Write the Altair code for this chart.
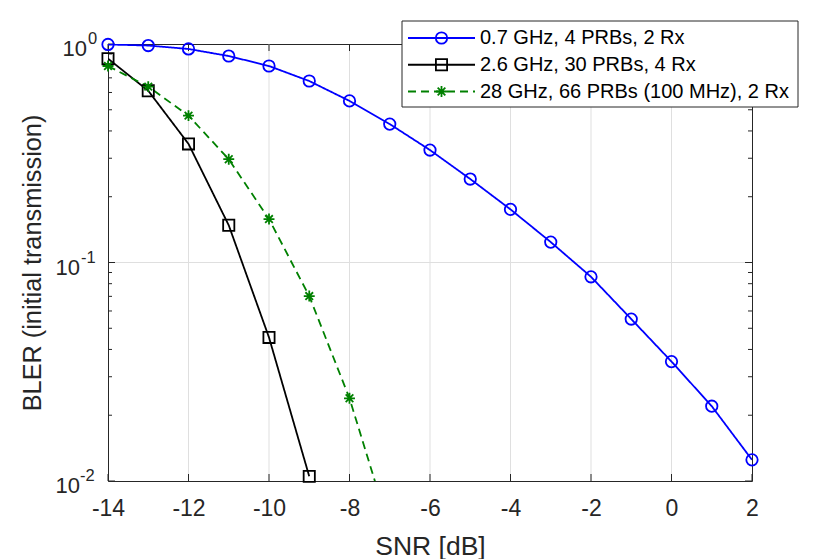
import altair as alt
import pandas as pd

# ---------------- data ----------------
series_names = [
    "0.7 GHz, 4 PRBs, 2 Rx",
    "2.6 GHz, 30 PRBs, 4 Rx",
    "28 GHz, 66 PRBs (100 MHz), 2 Rx",
]
series_colors = ["#0000ff", "#000000", "#008000"]

snr_07 = [-14, -13, -12, -11, -10, -9, -8, -7, -6, -5, -4, -3, -2, -1, 0, 1, 2]
bler_07 = [0.995, 0.984, 0.949, 0.881, 0.793, 0.677, 0.549, 0.430, 0.327,
           0.241, 0.175, 0.124, 0.086, 0.0551, 0.0352, 0.0220, 0.0125]

snr_26 = [-14, -13, -12, -11, -10, -9]
bler_26 = [0.857, 0.611, 0.349, 0.148, 0.0454, 0.0105]

snr_28 = [-14, -13, -12, -11, -10, -9, -8, -7]
bler_28 = [0.793, 0.638, 0.470, 0.297, 0.158, 0.0702, 0.0239, 0.006]

x_ticks = [-14, -12, -10, -8, -6, -4, -2, 0, 2]
y_major_ticks = [1, 0.1, 0.01]
y_tick_base = ["10", "10", "10"]
y_tick_exp = ["0", "-1", "-2"]
y_minor_ticks = [0.02, 0.03, 0.04, 0.05, 0.06, 0.07, 0.08, 0.09,
                 0.2, 0.3, 0.4, 0.5, 0.6, 0.7, 0.8, 0.9]
y_grid = [0.1]

# ---------------- styling ----------------
W, H = 644, 437
FONT = "Liberation Sans"
AX = "#262626"
GRID = "#dfdfdf"
STAR = "M-1,0L1,0M0,-1L0,1M-0.7,-0.7L0.7,0.7M-0.7,0.7L0.7,-0.7"
shapes = ["circle", "square", STAR]
dashes = [[1, 0], [1, 0], [8, 5]]
base_right = [-21, -28, -28]   # pixel anchor of the "10" part of each label
exp_left = [-20, -27, -28]     # pixel anchor of the exponent part

rows = []
for name, xs, ys in [(series_names[0], snr_07, bler_07),
                     (series_names[1], snr_26, bler_26),
                     (series_names[2], snr_28, bler_28)]:
    for a, b in zip(xs, ys):
        rows.append({"series": name, "snr": a, "bler": b})
df = pd.DataFrame(rows)

xscale = alt.Scale(domain=[-14, 2], nice=False, zero=False)
yscale = alt.Scale(type="log", domain=[0.01, 1], nice=False)

xaxis = alt.Axis(values=x_ticks, grid=False, ticks=False, domain=False,
                 labelFont=FONT, labelFontSize=23, labelColor=AX,
                 labelPadding=16, labelFlush=False, labelOverlap=False,
                 labelExpr="'' + datum.value",
                 title="SNR [dB]", titleFont=FONT, titleFontSize=26.5,
                 titleFontWeight="normal", titleColor=AX,
                 titleX=W / 2, titleY=73, titleBaseline="alphabetic")
yaxis = alt.Axis(values=y_major_ticks, grid=False, ticks=False, domain=False,
                 labels=False,
                 title="BLER (initial transmission)", titleFont=FONT,
                 titleFontSize=25.3, titleFontWeight="normal", titleColor=AX,
                 titleX=-68, titleY=H / 2, titleBaseline="alphabetic")


def X(f="snr"):
    return alt.X(f"{f}:Q", scale=xscale, axis=xaxis)


def Y(f="bler"):
    return alt.Y(f"{f}:Q", scale=yscale, axis=yaxis)


color = alt.Color("series:N", scale=alt.Scale(domain=series_names, range=series_colors), legend=None)
dash = alt.StrokeDash("series:N", scale=alt.Scale(domain=series_names, range=dashes), legend=None)
shape = alt.Shape("series:N", scale=alt.Scale(domain=series_names, range=shapes), legend=None)
msize = alt.Size("series:N", scale=alt.Scale(domain=series_names, range=[130, 120, 150]), legend=None)

xt = pd.DataFrame({"snr": x_ticks})
xg = pd.DataFrame({"snr": x_ticks[1:-1]})
ymaj = pd.DataFrame({"bler": y_major_ticks, "base": y_tick_base, "exp": y_tick_exp})
ymin = pd.DataFrame({"bler": y_minor_ticks})
yg = pd.DataFrame({"bler": y_grid})

layers = []
# grid
layers.append(alt.Chart(xg).mark_rule(color=GRID, strokeWidth=1).encode(
    x=X(), y=alt.value(0), y2=alt.value(H)))
layers.append(alt.Chart(yg).mark_rule(color=GRID, strokeWidth=1).encode(
    y=Y(), x=alt.value(0), x2=alt.value(W)))
# ticks
layers.append(alt.Chart(xt).mark_rule(color=AX, strokeWidth=1).encode(
    x=X(), y=alt.value(H), y2=alt.value(H - 7)))
layers.append(alt.Chart(xt).mark_rule(color=AX, strokeWidth=1).encode(
    x=X(), y=alt.value(0), y2=alt.value(7)))
layers.append(alt.Chart(ymaj).mark_rule(color=AX, strokeWidth=1).encode(
    y=Y(), x=alt.value(0), x2=alt.value(7)))
layers.append(alt.Chart(ymaj).mark_rule(color=AX, strokeWidth=1).encode(
    y=Y(), x=alt.value(W), x2=alt.value(W - 7)))
layers.append(alt.Chart(ymin).mark_rule(color=AX, strokeWidth=1).encode(
    y=Y(), x=alt.value(0), x2=alt.value(4)))
layers.append(alt.Chart(ymin).mark_rule(color=AX, strokeWidth=1).encode(
    y=Y(), x=alt.value(W), x2=alt.value(W - 4)))

# y tick labels (10 with superscript exponent)
for i, v in enumerate(y_major_ticks):
    lab = alt.Chart(ymaj).transform_filter(alt.datum.bler == v)
    layers.append(lab.mark_text(align="right", baseline="middle", font=FONT,
                                fontSize=22, color=AX, dy=5).encode(
        y=Y(), x=alt.value(base_right[i]), text="base:N"))
    layers.append(lab.mark_text(align="left", baseline="middle", font=FONT,
                                fontSize=16.5, color=AX, dy=-5).encode(
        y=Y(), x=alt.value(exp_left[i]), text="exp:N"))

# series
base = alt.Chart(df)
layers.append(base.mark_line(strokeWidth=1.8, clip=True).encode(
    x=X(), y=Y(), color=color, strokeDash=dash, detail="series:N"))
layers.append(base.transform_filter("datum.bler >= 0.01").mark_point(
    filled=False, strokeWidth=1.8, opacity=1).encode(
    x=X(), y=Y(), color=color, shape=shape, size=msize))

# legend (drawn with marks)
leg = pd.DataFrame({"series": series_names})
layers.append(alt.Chart(leg).transform_filter(
    alt.datum.series == series_names[0]).mark_rect(
    fill="white", stroke=AX, strokeWidth=1).encode(
    x=alt.value(294), x2=alt.value(690), y=alt.value(-23), y2=alt.value(63)))
for i, name in enumerate(series_names):
    yy = -6 + i * 26.75
    lb = alt.Chart(leg).transform_filter(alt.datum.series == name)
    layers.append(lb.mark_rule(strokeWidth=1.8).encode(
        x=alt.value(300), x2=alt.value(367), y=alt.value(yy),
        color=color, strokeDash=dash))
    layers.append(lb.mark_point(filled=False, strokeWidth=1.8, opacity=1).encode(
        x=alt.value(333.5), y=alt.value(yy), color=color, shape=shape, size=msize))
    layers.append(lb.mark_text(align="left", baseline="middle", font=FONT,
                               fontSize=20, color="black").encode(
        x=alt.value(372), y=alt.value(yy), text="series:N"))

chart = alt.layer(*layers).properties(
    width=W, height=H,
    padding={"left": 100, "top": 36, "right": 70, "bottom": 78},
    autosize=alt.AutoSizeParams(type="none"),
    background="white",
).configure_view(stroke=AX, strokeWidth=1)

chart.save("out.html", embed_options={"renderer": "svg", "actions": False})
